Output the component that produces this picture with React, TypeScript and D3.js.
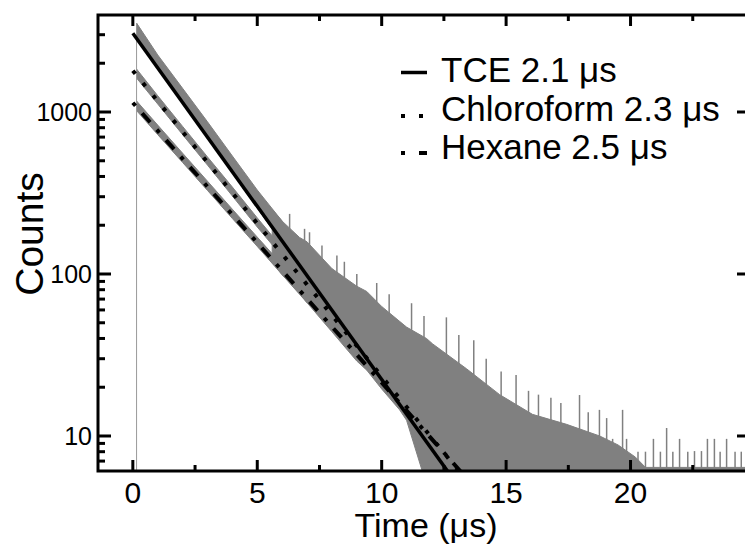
import React from 'react';
import * as d3 from 'd3';

const W = 745;
const H = 548;

// axis ticks
const xMajorTicks = [0, 5, 10, 15, 20];
const xMinorTicks = [2.5, 7.5, 12.5, 17.5, 22.5];
const yMajorTicks = [10, 100, 1000];
const yMinorTicks = [7, 8, 9, 20, 30, 40, 50, 60, 70, 80, 90, 200, 300, 400, 500, 600, 700, 800, 900, 2000, 3000];

// legend
const seriesNames = ['TCE 2.1 \u03bcs', 'Chloroform 2.3 \u03bcs', 'Hexane 2.5 \u03bcs'];
const xTitle = 'Time (\u03bcs)';
const yTitle = 'Counts';

// fitted single-exponential lines: [time (us), counts]
const tceFit: [number, number][] = [[0, 3060], [13, 5.1]];
const chloroFit: [number, number][] = [[0, 1800], [13.5, 5.1]];
const hexaneFit: [number, number][] = [[0, 1140], [13.5, 5.3]];

// measured decay envelopes: [time (us), low counts, high counts]
const tceBand: [number, number, number][] = [
  [0.15, 2800, 3540], [1, 1850, 2250], [2, 1130, 1400], [3, 690, 870],
  [4, 420, 535], [5, 255, 330], [6, 155, 212],
];
const chloroBand: [number, number, number][] = [
  [0.15, 1620, 1842], [1, 1120, 1260], [2, 725, 815], [3, 470, 528],
  [4, 303, 344], [5, 195, 222], [6, 128, 145], [7, 82, 95],
];
const hexaneBand: [number, number, number][] = [
  [0.15, 1020, 1170], [1, 725, 830], [2, 488, 557], [3, 328, 374],
  [4, 220, 251], [5, 148, 169], [6, 99, 114], [7, 66.5, 76.5],
];
const mergedBand: [number, number, number][] = [
  [5.6, 118, 250], [6, 99, 212], [6.7, 76, 168], [7, 66.5, 158], [8, 44, 108],
  [9, 29, 84], [9.4, 25.5, 78], [10, 19.5, 63], [10.72, 14.5, 51], [11, 12.5, 47],
  [11.8, 5, 40], [12.05, 5, 37], [13.41, 5, 26], [14.74, 5, 18],
  [16.06, 5, 13.6], [17.43, 5, 11.8], [18.76, 5, 10], [19.5, 5, 8.8],
  [20.2, 5, 7.4], [20.6, 5, 6.4], [24.7, 5, 6.4],
];

// individual noisy spikes above the envelope: time (us), top counts, bottom counts
const spikeTimes = [6.3, 6.9, 7.1, 7.6, 8.2, 8.5, 9.0, 9.8, 10.3, 11.2, 11.7, 12.6, 13.1, 13.7,
  14.2, 14.8, 15.4, 15.9, 16.3, 16.8, 17.2, 17.95, 18.3, 18.75, 19.04, 19.28, 19.68, 19.84,
  20.3, 20.6, 20.92, 21.2, 21.45, 21.7, 21.97, 22.3, 22.57, 22.85, 23.09, 23.37, 23.6, 23.86,
  24.2, 24.45];
const spikeCounts = [235, 190, 181, 150, 130, 119, 100, 88, 75, 66, 55, 54, 42, 39,
  30, 25, 23.8, 19, 18, 17.2, 16, 17.9, 14, 14.5, 12.9, 9.6, 14.5, 9.6,
  8, 8, 9.6, 8, 11.2, 8, 9.6, 8, 8.07, 8.07, 9.6, 9.6, 8, 9.6,
  8, 8];
const spikeBases = [160, 130, 125, 100, 85, 75, 62, 55, 45, 38, 5, 5, 5, 5,
  5, 5, 5, 5, 5, 5, 5, 5, 5, 5, 5, 5, 5, 5,
  5, 5, 5, 5, 5, 5, 5, 5, 5, 5, 5, 5, 5, 5,
  5, 5];
const riseTime = 0.15;
const riseCounts = 3540;

const x = d3.scaleLinear().domain([-1.4, 24.68]).range([98, 747]);
const y = d3.scaleLog().domain([6.08, 3970]).range([471, 15]);

const FONT = '"Liberation Sans", Arial, Helvetica, sans-serif';

export default function App() {
  const area = d3.area<[number, number, number]>()
    .x((d) => x(d[0]))
    .y0((d) => y(d[1]))
    .y1((d) => y(d[2]));
  const line = d3.line<[number, number]>()
    .x((d) => x(d[0]))
    .y((d) => y(d[1]));

  const left = 98, right = 747, top = 15, bottom = 471;
  const gray = '#808080';

  return (
    <svg width={W} height={H} style={{ position: 'absolute', left: 0, top: 0, background: '#fff' }}
      fontFamily={FONT}>
      <defs>
        <clipPath id="plotClip">
          <rect x={left} y={top} width={right - left} height={bottom - top} />
        </clipPath>
      </defs>
      <g clipPath="url(#plotClip)">
        {[tceBand, chloroBand, hexaneBand, mergedBand].map((b, i) => (
          <path key={i} d={area(b) || ''} fill={gray} stroke={gray} strokeWidth={1} />
        ))}
        <line x1={x(riseTime)} x2={x(riseTime)} y1={bottom} y2={y(riseCounts)} stroke="#999" strokeWidth={1} />
        {spikeTimes.map((t, i) => (
          <line key={i} x1={x(t)} x2={x(t)} y1={y(spikeBases[i])} y2={y(spikeCounts[i])} stroke={gray} strokeWidth={1.5} />
        ))}
        <path d={line(tceFit) || ''} fill="none" stroke="#000" strokeWidth={3.5} />
        <path d={line(chloroFit) || ''} fill="none" stroke="#000" strokeWidth={4} strokeDasharray="4 12" />
        <path d={line(hexaneFit) || ''} fill="none" stroke="#000" strokeWidth={4} strokeDasharray="4 10 12 10" />
      </g>

      {/* frame */}
      <rect x={left} y={top} width={right - left} height={bottom - top} fill="none" stroke="#000" strokeWidth={3} />

      {/* x ticks */}
      {xMajorTicks.map((t) => (
        <g key={'xM' + t}>
          <line x1={x(t)} x2={x(t)} y1={bottom} y2={bottom - 11} stroke="#000" strokeWidth={3} />
          <line x1={x(t)} x2={x(t)} y1={top} y2={top + 11} stroke="#000" strokeWidth={3} />
          <text x={x(t)} y={503} fontSize={30} textAnchor="middle">{t}</text>
        </g>
      ))}
      {xMinorTicks.map((t) => (
        <g key={'xm' + t}>
          <line x1={x(t)} x2={x(t)} y1={bottom} y2={bottom - 6} stroke="#000" strokeWidth={3} />
          <line x1={x(t)} x2={x(t)} y1={top} y2={top + 6} stroke="#000" strokeWidth={3} />
        </g>
      ))}

      {/* y ticks */}
      {yMajorTicks.map((v) => (
        <g key={'yM' + v}>
          <line x1={left} x2={left + 13} y1={y(v)} y2={y(v)} stroke="#000" strokeWidth={3} />
          <line x1={right} x2={right - 10} y1={y(v)} y2={y(v)} stroke="#000" strokeWidth={3} />
          <text x={92} y={y(v) + 9} fontSize={25} textAnchor="end">{String(v)}</text>
        </g>
      ))}
      {yMinorTicks.map((v) => (
        <line key={'ym' + v} x1={left} x2={left + 7} y1={y(v)} y2={y(v)} stroke="#000" strokeWidth={3} />
      ))}

      {/* axis titles */}
      <text x={426} y={537} fontSize={34} textAnchor="middle">{xTitle}</text>
      <text transform="translate(43,234) rotate(-90)" fontSize={39} textAnchor="middle">{yTitle}</text>

      {/* legend */}
      <g fontSize={35}>
        <line x1={401} x2={427} y1={72.5} y2={72.5} stroke="#000" strokeWidth={3.5} />
        <text x={441} y={82}>{seriesNames[0]}</text>
        <line x1={401} x2={427} y1={116} y2={116} stroke="#000" strokeWidth={4} strokeDasharray="4 14" />
        <text x={441} y={121}>{seriesNames[1]}</text>
        <line x1={401} x2={427} y1={153} y2={153} stroke="#000" strokeWidth={4} strokeDasharray="4 14 8 10" />
        <text x={441} y={159}>{seriesNames[2]}</text>
      </g>
    </svg>
  );
}
